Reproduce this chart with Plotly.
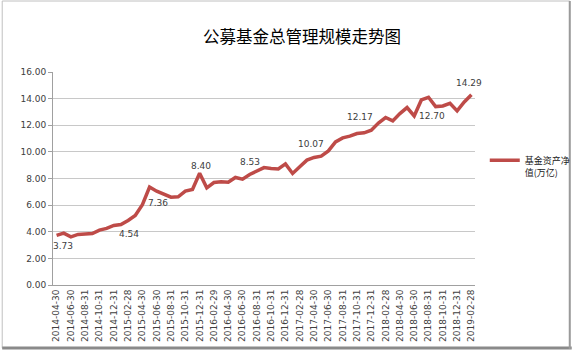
import plotly.graph_objects as go

dates = [
    "2014-04-30", "2014-05-31", "2014-06-30", "2014-07-31", "2014-08-31", "2014-09-30",
    "2014-10-31", "2014-11-30", "2014-12-31",
    "2015-01-31", "2015-02-28", "2015-03-31", "2015-04-30", "2015-05-31", "2015-06-30",
    "2015-07-31", "2015-08-31", "2015-09-30", "2015-10-31", "2015-11-30", "2015-12-31",
    "2016-01-31", "2016-02-29", "2016-03-31", "2016-04-30", "2016-05-31", "2016-06-30",
    "2016-07-31", "2016-08-31", "2016-09-30", "2016-10-31", "2016-11-30", "2016-12-31",
    "2017-01-31", "2017-02-28", "2017-03-31", "2017-04-30", "2017-05-31", "2017-06-30",
    "2017-07-31", "2017-08-31", "2017-09-30", "2017-10-31", "2017-11-30", "2017-12-31",
    "2018-01-31", "2018-02-28", "2018-03-31", "2018-04-30", "2018-05-31", "2018-06-30",
    "2018-07-31", "2018-08-31", "2018-09-30", "2018-10-31", "2018-11-30", "2018-12-31",
    "2019-01-31", "2019-02-28",
]

values = [
    3.73, 3.90, 3.62, 3.80, 3.83, 3.86, 4.12, 4.25, 4.47,
    4.54, 4.85, 5.22, 6.03, 7.36, 7.05, 6.80, 6.60, 6.62, 7.05, 7.18, 8.40,
    7.30, 7.70, 7.75, 7.72, 8.08, 7.95, 8.30, 8.53, 8.82, 8.75, 8.72, 9.10,
    8.38, 8.88, 9.38, 9.58, 9.68, 10.07, 10.75, 11.05, 11.18, 11.38, 11.43, 11.63,
    12.17, 12.58, 12.33, 12.88, 13.33, 12.70, 13.90, 14.10, 13.40, 13.45, 13.65, 13.08,
    13.75, 14.29,
]

label_dates = ["2014-04-30", "2015-01-31", "2015-05-31", "2015-12-31", "2016-08-31",
               "2017-06-30", "2018-01-31", "2018-06-30", "2019-02-28"]

tick_dates = dates[::2]
y_ticks = [0, 2, 4, 6, 8, 10, 12, 14, 16]

series_name = "基金资产净<br>值(万亿)"
title_text = "公募基金总管理规模走势图"

# styling (label offsets in px)
label_offsets = [(6, -11), (8, -9), (8, -16), (1, 7), (-7, 9),
                 (-17, 7), (-18, 6), (18, 0), (-2, 12)]

W, H = 588, 356
L, R, T, B = 53, 103, 72, 71
PW, PH = W - L - R, H - T - B


def px(x):
    return (x - L) / PW


def py(y):
    return (H - B - y) / PH


line_color = "#BE4B48"
text_color = "#404040"
grid_color = "#C8C8C8"

fig = go.Figure()
fig.add_trace(go.Scatter(
    x=dates, y=values, mode="lines", name=series_name,
    line=dict(color=line_color, width=3.5),
    showlegend=True,
))

annotations = []
for d, (dx, dy) in zip(label_dates, label_offsets):
    v = values[dates.index(d)]
    annotations.append(dict(
        x=d, y=v, xref="x", yref="y", text=f"{v:.2f}", showarrow=False,
        xanchor="center", yanchor="middle", xshift=dx, yshift=dy,
        font=dict(family="DejaVu Sans", size=9, color=text_color),
    ))

shapes = [
    dict(type="rect", xref="paper", yref="paper", x0=px(1), x1=px(582), y0=py(348), y1=py(1),
         line=dict(color="#C0C0C0", width=1)),
    dict(type="line", xref="paper", yref="paper", x0=px(1), x1=px(584), y0=py(348), y1=py(348),
         line=dict(color="#8A8A8A", width=3)),
    dict(type="line", xref="paper", yref="paper", x0=px(582), x1=px(582), y0=py(349), y1=py(1),
         line=dict(color="#9A9A9A", width=2)),
]

fig.update_layout(
    width=W, height=H,
    margin=dict(l=L, r=R, t=T, b=B),
    paper_bgcolor="white", plot_bgcolor="white",
    title=dict(text=title_text, x=302 / W, xanchor="center", y=1 - 37 / H, yanchor="middle",
               xref="container", yref="container",
               font=dict(family="Noto Sans CJK SC", size=16.5, color="black")),
    xaxis=dict(
        type="category", range=[-0.5, len(dates) - 0.5],
        tickmode="array", tickvals=tick_dates, ticktext=tick_dates,
        tickangle=-90, showgrid=False,
        showline=True, linecolor="#A0A0A0", linewidth=1,
        ticks="", tickfont=dict(family="DejaVu Sans", size=9, color=text_color),
        automargin=False,
    ),
    yaxis=dict(
        range=[0, 16], tickmode="array", tickvals=y_ticks, tickformat=".2f",
        showgrid=True, gridcolor=grid_color, gridwidth=1,
        showline=True, linecolor="#A0A0A0", linewidth=1,
        ticks="outside", ticklen=4, tickcolor="#A0A0A0",
        zeroline=False,
        tickfont=dict(family="DejaVu Sans", size=9, color=text_color),
        automargin=False,
    ),
    legend=dict(x=px(495), y=py(148), xanchor="left", yanchor="top",
                valign="top", bgcolor="rgba(0,0,0,0)",
                font=dict(family="Noto Sans CJK SC", size=9, color="#202020")),
    annotations=annotations,
    shapes=shapes,
)

fig.write_html(
    "out.html",
    config={"displayModeBar": False},
    post_script="document.body.style.margin='0px';document.body.style.overflow='hidden';",
)
